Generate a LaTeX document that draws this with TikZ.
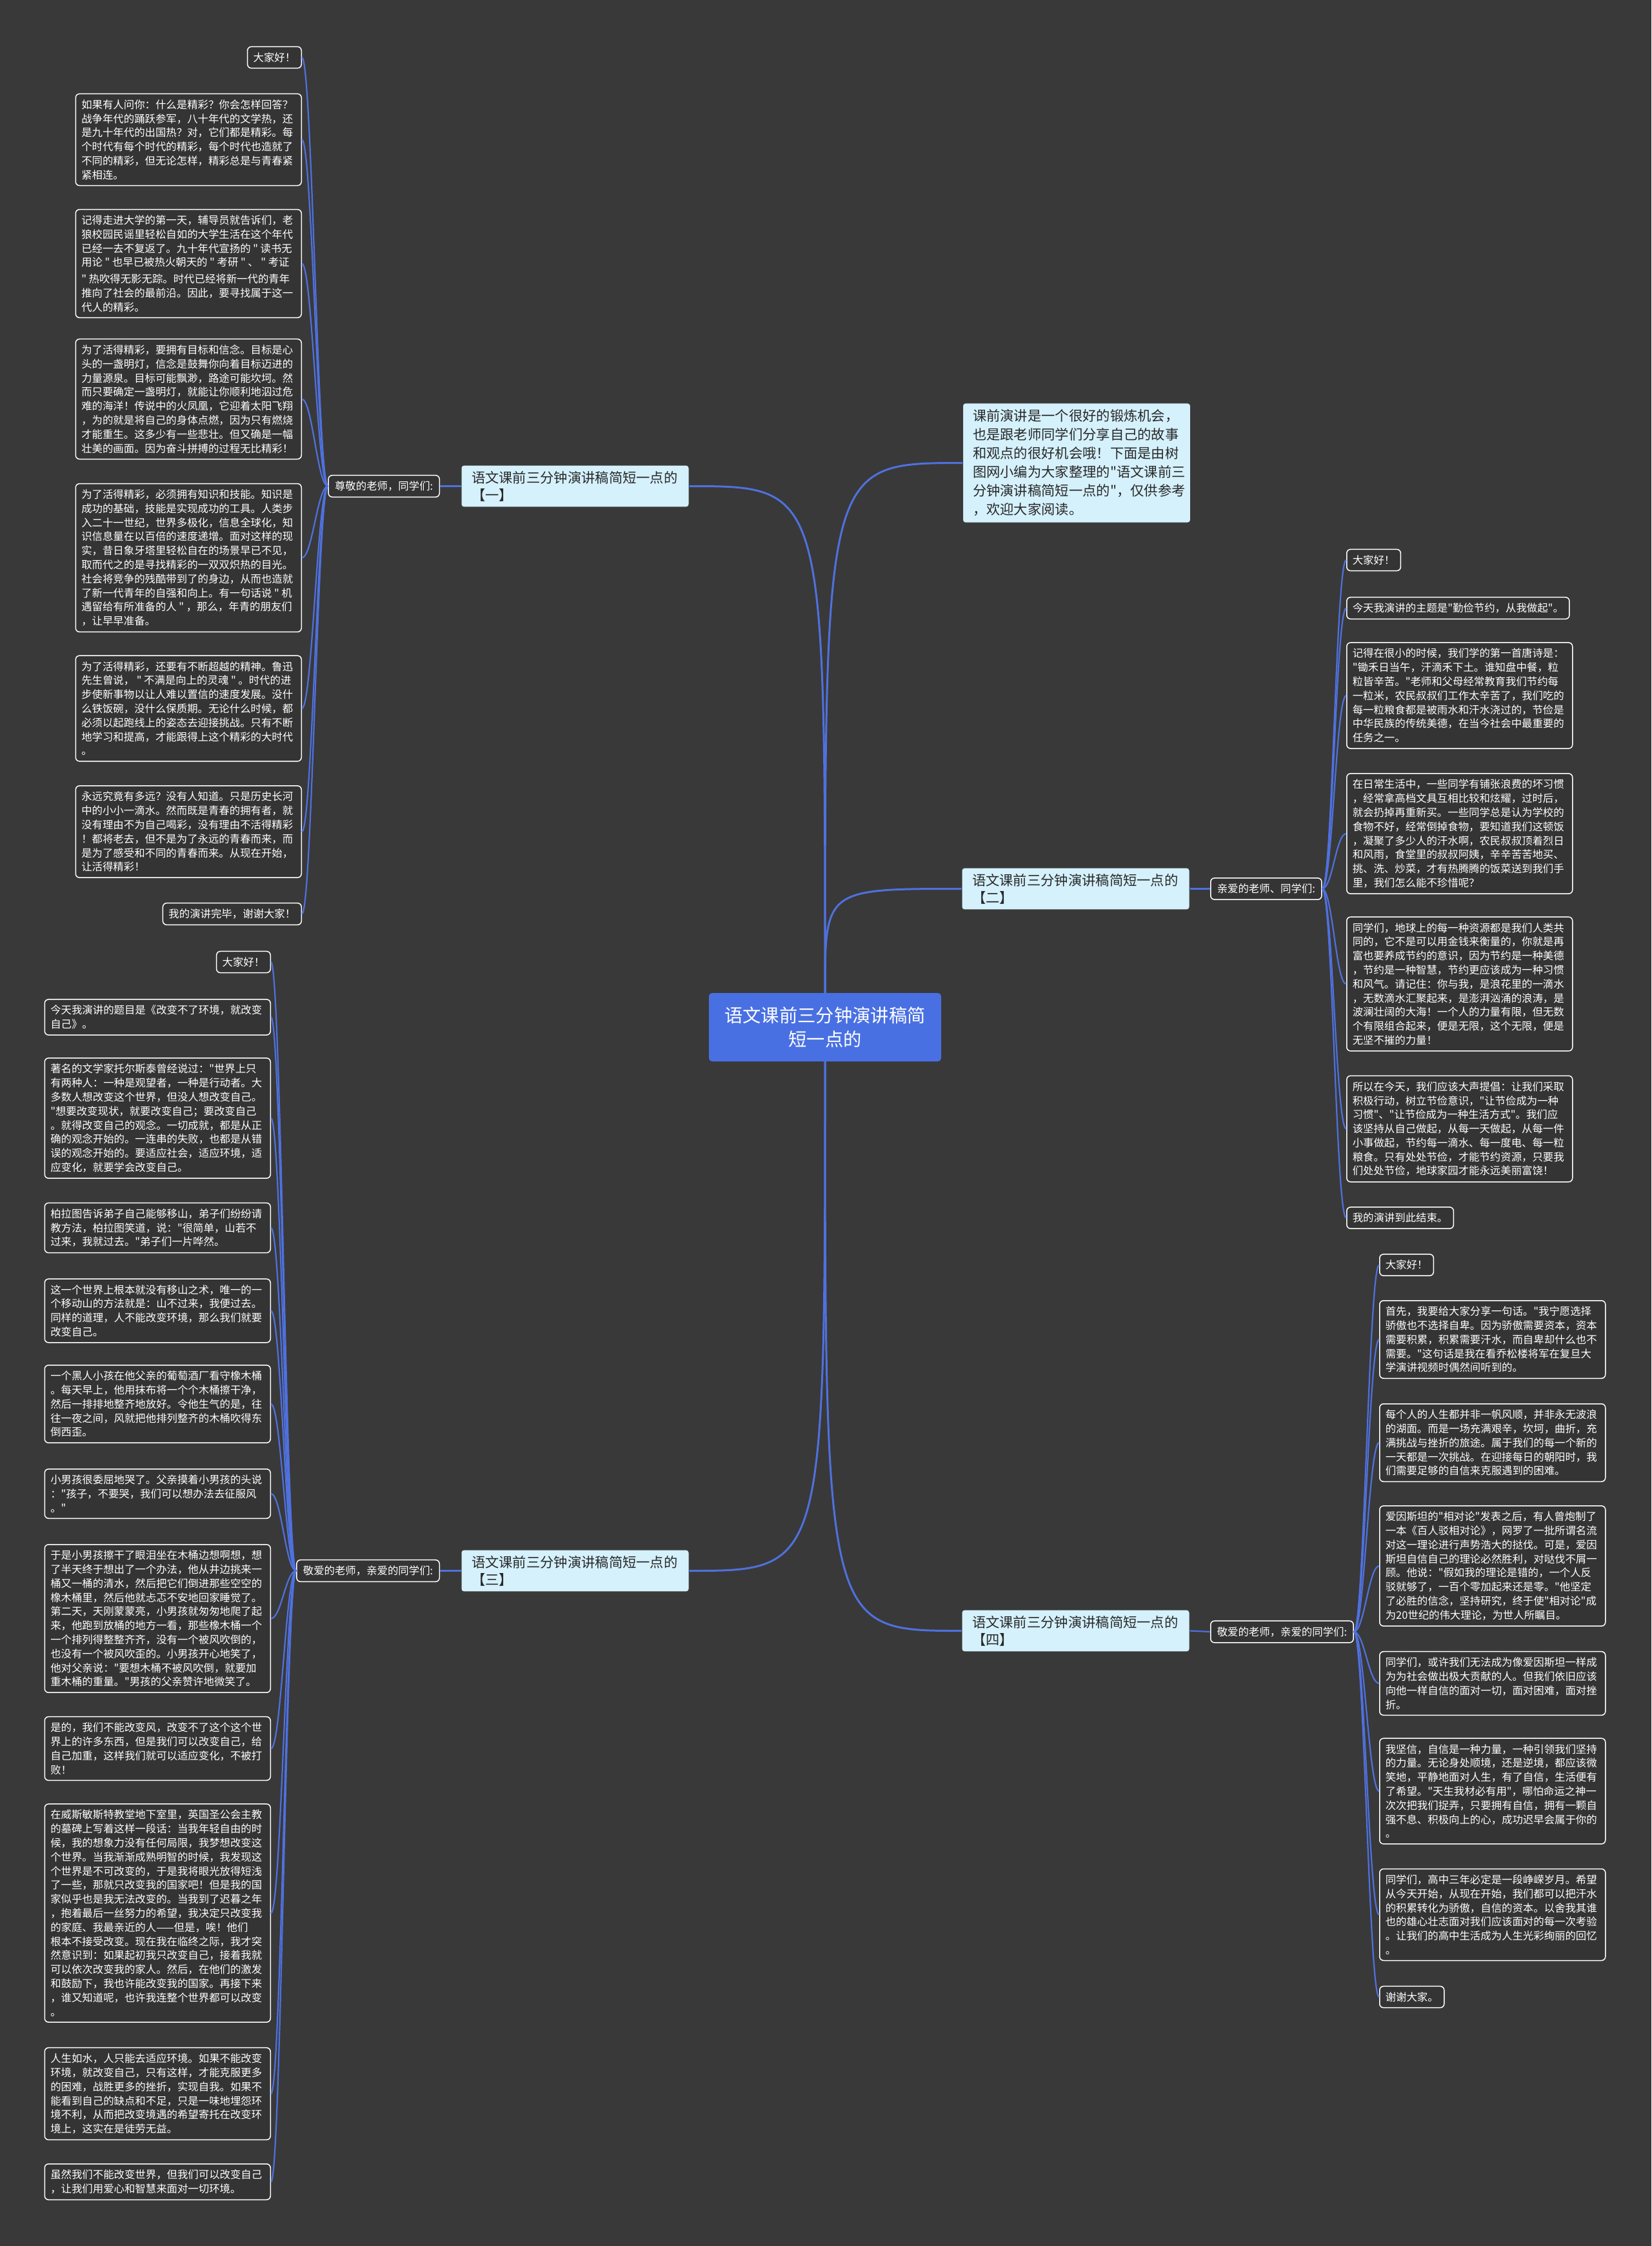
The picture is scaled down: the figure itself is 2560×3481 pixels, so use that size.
\documentclass[tikz,border=0pt]{standalone}
\usepackage{fontspec}
\newfontfamily\cjk{Noto Sans CJK SC}
\usetikzlibrary{calc}
\newcommand{\qsp}{\kern0.22em}
\definecolor{bg}{RGB}{57,57,57}
\definecolor{leaffill}{RGB}{52,52,52}
\definecolor{connc}{RGB}{79,113,222}
\definecolor{rootc}{RGB}{73,112,226}
\definecolor{brfill}{RGB}{213,241,252}
\definecolor{brdr}{RGB}{60,60,60}
\definecolor{brtext}{RGB}{40,40,40}
\tikzset{
 para/.style={draw=white, line width=1.5pt, rounded corners=6pt, fill=leaffill, text=white,
   font=\cjk\fontsize{16.4}{21.8}\selectfont, align=left, text width=332pt, inner xsep=9pt, inner ysep=9pt},
 short/.style={draw=white, line width=1.5pt, rounded corners=6pt, fill=leaffill, text=white,
   font=\cjk\fontsize{16.4}{21.8}\selectfont, inner xsep=9pt, inner ysep=9pt},
 lbl/.style={short, inner xsep=10pt},
 branch/.style={draw=brdr, line width=1pt, rounded corners=4pt, fill=brfill, text=brtext,
   font=\cjk\fontsize{21.3}{27}\selectfont, align=left, text width=321pt, inner xsep=16pt, inner ysep=9pt},
 intro/.style={draw=brdr, line width=1pt, rounded corners=4pt, fill=brfill, text=brtext,
   font=\cjk\fontsize{21.3}{29}\selectfont, align=left, text width=322pt, inner xsep=15.5pt, inner ysep=10pt},
 rootn/.style={fill=rootc, rounded corners=5pt, text=white, font=\cjk\fontsize{28.3}{37}\selectfont,
   align=center, minimum width=360pt, minimum height=106pt},
 conn/.style={draw=connc, line width=3pt},
 lc/.style={draw=connc, line width=2.2pt},
}
\begin{document}
\begin{tikzpicture}[x=1pt,y=-1pt]
\fill[bg] (0,0) rectangle (2560,3481);
\useasboundingbox (0,0) rectangle (2560,3481);

% root and branches
\node[rootn] (root) at (1279,1592) {语文课前三分钟演讲稿简\\短一点的};
\node[intro, anchor=west] (intro) at (1492,717.5) {课前演讲是一个很好的锻炼机会，\\也是跟老师同学们分享自己的故事\\和观点的很好机会哦！下面是由树\\图网小编为大家整理的"语文课前三\\分钟演讲稿简短一点的"，仅供参考\\，欢迎大家阅读。};
\node[branch] (b1) at (891.5,753.5) {语文课前三分钟演讲稿简短一点的\\【一】};
\node[branch] (b2) at (1667.5,1377.5) {语文课前三分钟演讲稿简短一点的\\【二】};
\node[branch] (b3) at (891.5,2434.5) {语文课前三分钟演讲稿简短一点的\\【三】};
\node[branch] (b4) at (1667.5,2527.5) {语文课前三分钟演讲稿简短一点的\\【四】};

% sub labels
\node[lbl, anchor=east] (s1) at (682,753.5) {尊敬的老师，同学们:};
\node[lbl, anchor=west] (s2) at (1876,1377.5) {亲爱的老师、同学们:};
\node[lbl, anchor=east] (s3) at (682,2434.5) {敬爱的老师，亲爱的同学们:};
\node[lbl, anchor=west] (s4) at (1876,2529) {敬爱的老师，亲爱的同学们:};

% branch one leaves
\node[short, anchor=east] (a1) at (468,89) {大家好！};
\node[para, anchor=east] (a2) at (468,216.5) {如果有人问你：什么是精彩？你会怎样回答？\\战争年代的踊跃参军，八十年代的文学热，还\\是九十年代的出国热？对，它们都是精彩。每\\个时代有每个时代的精彩，每个时代也造就了\\不同的精彩，但无论怎样，精彩总是与青春紧\\紧相连。};
\node[para, anchor=east] (a3) at (468,408.5) {记得走进大学的第一天，辅导员就告诉们，老\\狼校园民谣里轻松自如的大学生活在这个年代\\已经一去不复返了。九十年代宣扬的\qsp{}"\qsp{}读书无\\用论\qsp{}"\qsp{}也早已被热火朝天的\qsp{}"\qsp{}考研\qsp{}"\qsp{}、\qsp{}"\qsp{}考证\\\qsp{}"\qsp{}热吹得无影无踪。时代已经将新一代的青年\\推向了社会的最前沿。因此，要寻找属于这一\\代人的精彩。};
\node[para, anchor=east] (a4) at (468,618.5) {为了活得精彩，要拥有目标和信念。目标是心\\头的一盏明灯，信念是鼓舞你向着目标迈进的\\力量源泉。目标可能飘渺，路途可能坎坷。然\\而只要确定一盏明灯，就能让你顺利地泅过危\\难的海洋！传说中的火凤凰，它迎着太阳飞翔\\，为的就是将自己的身体点燃，因为只有燃烧\\才能重生。这多少有一些悲壮。但又确是一幅\\壮美的画面。因为奋斗拼搏的过程无比精彩！};
\node[para, anchor=east] (a5) at (468,864.5) {为了活得精彩，必须拥有知识和技能。知识是\\成功的基础，技能是实现成功的工具。人类步\\入二十一世纪，世界多极化，信息全球化，知\\识信息量在以百倍的速度递增。面对这样的现\\实，昔日象牙塔里轻松自在的场景早已不见，\\取而代之的是寻找精彩的一双双炽热的目光。\\社会将竞争的残酷带到了的身边，从而也造就\\了新一代青年的自强和向上。有一句话说\qsp{}"\qsp{}机\\遇留给有所准备的人\qsp{}"\qsp{}，那么，年青的朋友们\\，让早早准备。};
\node[para, anchor=east] (a6) at (468,1098) {为了活得精彩，还要有不断超越的精神。鲁迅\\先生曾说，\qsp{}"\qsp{}不满是向上的灵魂\qsp{}"\qsp{}。时代的进\\步使新事物以让人难以置信的速度发展。没什\\么铁饭碗，没什么保质期。无论什么时候，都\\必须以起跑线上的姿态去迎接挑战。只有不断\\地学习和提高，才能跟得上这个精彩的大时代\\。};
\node[para, anchor=east] (a7) at (468,1289) {永远究竟有多远？没有人知道。只是历史长河\\中的小小一滴水。然而既是青春的拥有者，就\\没有理由不为自己喝彩，没有理由不活得精彩\\！都将老去，但不是为了永远的青春而来，而\\是为了感受和不同的青春而来。从现在开始，\\让活得精彩！};
\node[short, anchor=east] (a8) at (468,1416.5) {我的演讲完毕，谢谢大家！};

% branch two leaves
\node[short, anchor=west] (c1) at (2087,868) {大家好！};
\node[short, anchor=west] (c2) at (2087,942.5) {今天我演讲的主题是"勤俭节约，从我做起"。};
\node[para, anchor=west] (c3) at (2087,1078) {记得在很小的时候，我们学的第一首唐诗是：\\"锄禾日当午，汗滴禾下土。谁知盘中餐，粒\\粒皆辛苦。"老师和父母经常教育我们节约每\\一粒米，农民叔叔们工作太辛苦了，我们吃的\\每一粒粮食都是被雨水和汗水浇过的，节俭是\\中华民族的传统美德，在当今社会中最重要的\\任务之一。};
\node[para, anchor=west] (c4) at (2087,1292) {在日常生活中，一些同学有铺张浪费的坏习惯\\，经常拿高档文具互相比较和炫耀，过时后，\\就会扔掉再重新买。一些同学总是认为学校的\\食物不好，经常倒掉食物，要知道我们这顿饭\\，凝聚了多少人的汗水啊，农民叔叔顶着烈日\\和风雨，食堂里的叔叔阿姨，辛辛苦苦地买、\\挑、洗、炒菜，才有热腾腾的饭菜送到我们手\\里，我们怎么能不珍惜呢？};
\node[para, anchor=west] (c5) at (2087,1525) {同学们，地球上的每一种资源都是我们人类共\\同的，它不是可以用金钱来衡量的，你就是再\\富也要养成节约的意识，因为节约是一种美德\\，节约是一种智慧，节约更应该成为一种习惯\\和风气。请记住：你与我，是浪花里的一滴水\\，无数滴水汇聚起来，是澎湃汹涌的浪涛，是\\波澜壮阔的大海！一个人的力量有限，但无数\\个有限组合起来，便是无限，这个无限，便是\\无坚不摧的力量！};
\node[para, anchor=west] (c6) at (2087,1749.5) {所以在今天，我们应该大声提倡：让我们采取\\积极行动，树立节俭意识，"让节俭成为一种\\习惯"、"让节俭成为一种生活方式"。我们应\\该坚持从自己做起，从每一天做起，从每一件\\小事做起，节约每一滴水、每一度电、每一粒\\粮食。只有处处节俭，才能节约资源，只要我\\们处处节俭，地球家园才能永远美丽富饶！};
\node[short, anchor=west] (c7) at (2087,1887.5) {我的演讲到此结束。};

% branch three leaves
\node[short, anchor=east] (d1) at (420,1491) {大家好！};
\node[para, anchor=east] (d2) at (420,1576.5) {今天我演讲的题目是《改变不了环境，就改变\\自己》。};
\node[para, anchor=east] (d3) at (420,1733) {著名的文学家托尔斯泰曾经说过："世界上只\\有两种人：一种是观望者，一种是行动者。大\\多数人想改变这个世界，但没人想改变自己。\\"想要改变现状，就要改变自己；要改变自己\\。就得改变自己的观念。一切成就，都是从正\\确的观念开始的。一连串的失败，也都是从错\\误的观念开始的。要适应社会，适应环境，适\\应变化，就要学会改变自己。};
\node[para, anchor=east] (d4) at (420,1903) {柏拉图告诉弟子自己能够移山，弟子们纷纷请\\教方法，柏拉图笑道，说："很简单，山若不\\过来，我就过去。"弟子们一片哗然。};
\node[para, anchor=east] (d5) at (420,2031.5) {这一个世界上根本就没有移山之术，唯一的一\\个移动山的方法就是：山不过来，我便过去。\\同样的道理，人不能改变环境，那么我们就要\\改变自己。};
\node[para, anchor=east] (d6) at (420,2176) {一个黑人小孩在他父亲的葡萄酒厂看守橡木桶\\。每天早上，他用抹布将一个个木桶擦干净，\\然后一排排地整齐地放好。令他生气的是，往\\往一夜之间，风就把他排列整齐的木桶吹得东\\倒西歪。};
\node[para, anchor=east] (d7) at (420,2315) {小男孩很委屈地哭了。父亲摸着小男孩的头说\\："孩子，不要哭，我们可以想办法去征服风\\。"};
\node[para, anchor=east] (d8) at (420,2508.5) {于是小男孩擦干了眼泪坐在木桶边想啊想，想\\了半天终于想出了一个办法，他从井边挑来一\\桶又一桶的清水，然后把它们倒进那些空空的\\橡木桶里，然后他就忐忑不安地回家睡觉了。\\第二天，天刚蒙蒙亮，小男孩就匆匆地爬了起\\来，他跑到放桶的地方一看，那些橡木桶一个\\一个排列得整整齐齐，没有一个被风吹倒的，\\也没有一个被风吹歪的。小男孩开心地笑了，\\他对父亲说："要想木桶不被风吹倒，就要加\\重木桶的重量。"男孩的父亲赞许地微笑了。};
\node[para, anchor=east] (d9) at (420,2710) {是的，我们不能改变风，改变不了这个这个世\\界上的许多东西，但是我们可以改变自己，给\\自己加重，这样我们就可以适应变化，不被打\\败！};
\node[para, anchor=east] (d10) at (420,2965) {在威斯敏斯特教堂地下室里，英国圣公会主教\\的墓碑上写着这样一段话：当我年轻自由的时\\候，我的想象力没有任何局限，我梦想改变这\\个世界。当我渐渐成熟明智的时候，我发现这\\个世界是不可改变的，于是我将眼光放得短浅\\了一些，那就只改变我的国家吧！但是我的国\\家似乎也是我无法改变的。当我到了迟暮之年\\，抱着最后一丝努力的希望，我决定只改变我\\的家庭、我最亲近的人——但是，唉！他们\\根本不接受改变。现在我在临终之际，我才突\\然意识到：如果起初我只改变自己，接着我就\\可以依次改变我的家人。然后，在他们的激发\\和鼓励下，我也许能改变我的国家。再接下来\\，谁又知道呢，也许我连整个世界都可以改变\\。};
\node[para, anchor=east] (d11) at (420,3245) {人生如水，人只能去适应环境。如果不能改变\\环境，就改变自己，只有这样，才能克服更多\\的困难，战胜更多的挫折，实现自我。如果不\\能看到自己的缺点和不足，只是一味地埋怨环\\境不利，从而把改变境遇的希望寄托在改变环\\境上，这实在是徒劳无益。};
\node[para, anchor=east] (d12) at (420,3381.5) {虽然我们不能改变世界，但我们可以改变自己\\，让我们用爱心和智慧来面对一切环境。};

% branch four leaves
\node[short, anchor=west] (e1) at (2138,1960.5) {大家好！};
\node[para, anchor=west] (e2) at (2138,2076) {首先，我要给大家分享一句话。"我宁愿选择\\骄傲也不选择自卑。因为骄傲需要资本，资本\\需要积累，积累需要汗水，而自卑却什么也不\\需要。"这句话是我在看乔松楼将军在复旦大\\学演讲视频时偶然间听到的。};
\node[para, anchor=west] (e3) at (2138,2236) {每个人的人生都并非一帆风顺，并非永无波浪\\的湖面。而是一场充满艰辛，坎坷，曲折，充\\满挑战与挫折的旅途。属于我们的每一个新的\\一天都是一次挑战。在迎接每日的朝阳时，我\\们需要足够的自信来克服遇到的困难。};
\node[para, anchor=west] (e4) at (2138,2427) {爱因斯坦的"相对论"发表之后，有人曾炮制了\\一本《百人驳相对论》，网罗了一批所谓名流\\对这一理论进行声势浩大的挞伐。可是，爱因\\斯坦自信自己的理论必然胜利，对哒伐不屑一\\顾。他说："假如我的理论是错的，一个人反\\驳就够了，一百个零加起来还是零。"他坚定\\了必胜的信念，坚持研究，终于使"相对论"成\\为20世纪的伟大理论，为世人所瞩目。};
\node[para, anchor=west] (e5) at (2138,2609) {同学们，或许我们无法成为像爱因斯坦一样成\\为为社会做出极大贡献的人。但我们依旧应该\\向他一样自信的面对一切，面对困难，面对挫\\折。};
\node[para, anchor=west] (e6) at (2138,2776) {我坚信，自信是一种力量，一种引领我们坚持\\的力量。无论身处顺境，还是逆境，都应该微\\笑地，平静地面对人生，有了自信，生活便有\\了希望。"天生我材必有用"，哪怕命运之神一\\次次把我们捉弄，只要拥有自信，拥有一颗自\\强不息、积极向上的心，成功迟早会属于你的\\。};
\node[para, anchor=west] (e7) at (2138,2967.5) {同学们，高中三年必定是一段峥嵘岁月。希望\\从今天开始，从现在开始，我们都可以把汗水\\的积累转化为骄傲，自信的资本。以舍我其谁\\也的雄心壮志面对我们应该面对的每一次考验\\。让我们的高中生活成为人生光彩绚丽的回忆\\。};
\node[short, anchor=west] (e8) at (2138,3095) {谢谢大家。};

% root connectors
\draw[conn] (root.north) .. controls (root.north |- b1.west) .. (b1.east);
\draw[conn] (root.north) .. controls (root.north |- intro.west) .. (intro.west);
\draw[conn] (root.north) .. controls (root.north |- b2.west) .. (b2.west);
\draw[conn] (root.south) .. controls (root.south |- b3.east) .. (b3.east);
\draw[conn] (root.south) .. controls (root.south |- b4.west) .. (b4.west);

% branch to labels
\draw[lc] (b1.west) -- (s1.east);
\draw[lc] (b2.east) -- (s2.west);
\draw[lc] (b3.west) -- (s3.east);
\draw[lc] (b4.east) -- (s4.west);

% labels to leaves
\foreach \n in {a1,a2,a3,a4,a5,a6,a7,a8}
  \draw[lc] (s1.west) to[out=180,in=0,distance=16pt] (\n.east);
\foreach \n in {c1,c2,c3,c4,c5,c6,c7}
  \draw[lc] (s2.east) to[out=0,in=180,distance=16pt] (\n.west);
\foreach \n in {d1,d2,d3,d4,d5,d6,d7,d8,d9,d10,d11,d12}
  \draw[lc] (s3.west) to[out=180,in=0,distance=16pt] (\n.east);
\foreach \n in {e1,e2,e3,e4,e5,e6,e7,e8}
  \draw[lc] (s4.east) to[out=0,in=180,distance=16pt] (\n.west);
\end{tikzpicture}
\end{document}
